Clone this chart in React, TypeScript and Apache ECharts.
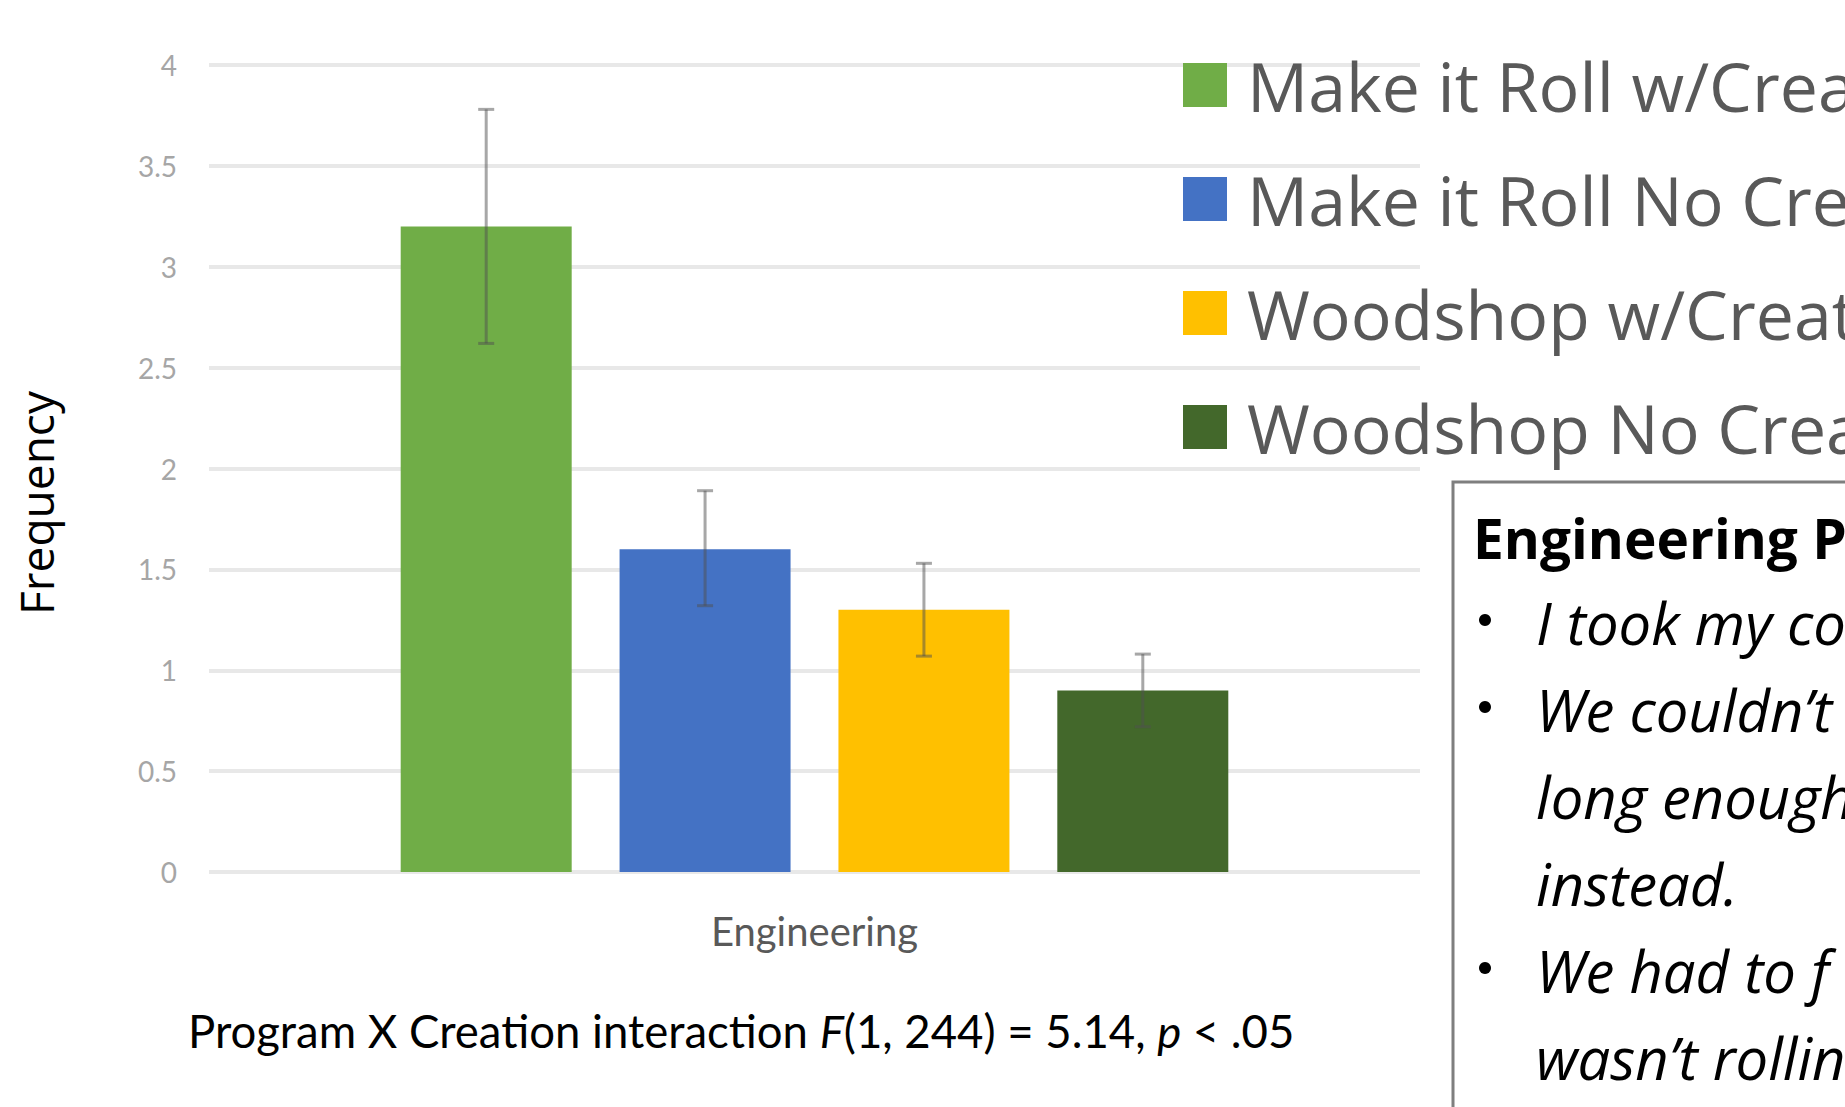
import React, { useEffect, useRef } from "react";
import * as echarts from "echarts";

const categories = ["Engineering"];
const seriesNames = [
  "Make it Roll w/Creation",
  "Make it Roll No Creation",
  "Woodshop w/Creation",
  "Woodshop No Creation",
];
const means = [3.2, 1.6, 1.3, 0.9];
const errLow = [2.62, 1.32, 1.07, 0.72];
const errHigh = [3.78, 1.89, 1.53, 1.08];
const colors = ["#70AD47", "#4472C4", "#FFC000", "#43682B"];
const yMin = 0;
const yMax = 4;
const yStep = 0.5;
const yAxisTitle = "Frequency";
const statLine = [
  { t: "Program X Creation interaction ", i: false },
  { t: "F", i: true },
  { t: "(1, 244) = 5.14, ", i: false },
  { t: "p", i: true },
  { t: " < .05", i: false },
];
const boxTitle = "Engineering P";
const boxBullets = [
  { bullet: true, text: "I took my co" },
  { bullet: true, text: "We couldn\u2019t t" },
  { bullet: false, text: "long enough" },
  { bullet: false, text: "instead." },
  { bullet: true, text: "We had to f" },
  { bullet: false, text: "wasn\u2019t rollin" },
];

const FONT = "Lato, 'Open Sans', sans-serif";
const FONT2 = "'Open Sans', Lato, sans-serif";
const BAR_W_PCT = 0.1412;
const BAR_GAP = 0.28;

export default function App() {
  const ref = useRef<HTMLDivElement>(null);
  useEffect(() => {
    document.body.style.margin = "0";
    document.body.style.overflow = "hidden";
    const chart = echarts.init(ref.current!, null, { renderer: "svg" });

    const barSeries = seriesNames.map((name, i) => ({
      name,
      type: "bar",
      data: [means[i]],
      barWidth: BAR_W_PCT * 100 + "%",
      barGap: BAR_GAP * 100 + "%",
      itemStyle: { color: colors[i] },
      z: 2,
    }));

    const errData = seriesNames.map((_, i) => [0, errLow[i], errHigh[i], i]);

    const errSeries = {
      type: "custom",
      name: "err",
      z: 5,
      data: errData,
      renderItem: (params: any, api: any) => {
        const cat = api.value(0);
        const lo = api.value(1);
        const hi = api.value(2);
        const idx = api.value(3);
        const band = api.size([1, 0])[0];
        const w = band * BAR_W_PCT;
        const off = (idx - 1.5) * w * (1 + BAR_GAP);
        const pLo = api.coord([cat, lo]);
        const pHi = api.coord([cat, hi]);
        const x = pLo[0] + off;
        const cap = 8;
        const style = { stroke: "rgba(80,80,80,0.5)", lineWidth: 3 };
        return {
          type: "group",
          children: [
            { type: "line", shape: { x1: x, y1: pLo[1], x2: x, y2: pHi[1] }, style },
            { type: "line", shape: { x1: x - cap, y1: pLo[1], x2: x + cap, y2: pLo[1] }, style },
            { type: "line", shape: { x1: x - cap, y1: pHi[1], x2: x + cap, y2: pHi[1] }, style },
          ],
        };
      },
    };

    const richText = statLine.map((s) => `{${s.i ? "i" : "n"}|${s.t}}`).join("");

    const boxX = 1453;
    const boxY = 482;
    const lineY0 = 622;
    const lineStep = 87;

    const graphics: any[] = [
      {
        type: "text",
        x: 36,
        y: 503,
        rotation: Math.PI / 2,
        style: {
          text: yAxisTitle,
          fill: "#000",
          font: `46px ${FONT2}`,
          align: "center",
          verticalAlign: "middle",
        },
      },
      {
        type: "text",
        x: 188,
        y: 1030,
        style: {
          text: richText,
          verticalAlign: "middle",
          align: "left",
          rich: {
            n: { fontSize: 45.5, fontFamily: FONT, color: "#000" },
            i: { fontSize: 45.5, fontFamily: FONT, color: "#000", fontStyle: "italic" },
          },
        },
      },
      {
        type: "rect",
        shape: { x: boxX, y: boxY, width: 700, height: 900 },
        style: { fill: "#fff", stroke: "#7f7f7f", lineWidth: 3 },
        z: 10,
      },
      {
        type: "text",
        x: 1473,
        y: 537,
        z: 11,
        style: {
          text: boxTitle,
          fill: "#000",
          font: `bold 55px ${FONT2}`,
          verticalAlign: "middle",
        },
      },
    ];
    boxBullets.forEach((b, k) => {
      const y = lineY0 + k * lineStep;
      if (b.bullet) {
        graphics.push({
          type: "circle",
          z: 11,
          shape: { cx: 1485, cy: y - 2, r: 6 },
          style: { fill: "#000" },
        });
      }
      graphics.push({
        type: "text",
        x: 1536,
        y,
        z: 11,
        style: {
          text: b.text,
          fill: "#000",
          font: `italic 58px ${FONT2}`,
          verticalAlign: "middle",
        },
      });
    });

    chart.setOption({
      animation: false,
      backgroundColor: "#fff",
      grid: { left: 209, right: 425, top: 65, bottom: 235, containLabel: false },
      legend: {
        data: seriesNames,
        orient: "vertical",
        left: 1183,
        top: 51,
        padding: 0,
        itemWidth: 44,
        itemHeight: 44,
        itemGap: 46,
        icon: "rect",
        textStyle: {
          fontSize: 68,
          fontFamily: FONT2,
          color: "#595959",
          padding: [0, 0, 0, 15],
        },
      },
      xAxis: {
        type: "category",
        data: categories,
        axisLine: { show: false },
        axisTick: { show: false },
        axisLabel: { color: "#595959", fontSize: 40, fontFamily: FONT, margin: 39 },
      },
      yAxis: {
        type: "value",
        min: yMin,
        max: yMax,
        interval: yStep,
        axisLine: { show: false },
        axisTick: { show: false },
        axisLabel: { color: "#a6a6a6", fontSize: 28, fontFamily: FONT, margin: 32 },
        splitLine: { lineStyle: { color: "#e8e8e8", width: 4 } },
      },
      series: [...barSeries, errSeries],
      graphic: graphics,
    });
    return () => chart.dispose();
  }, []);
  return <div ref={ref} style={{ width: 1845, height: 1107 }} />;
}
